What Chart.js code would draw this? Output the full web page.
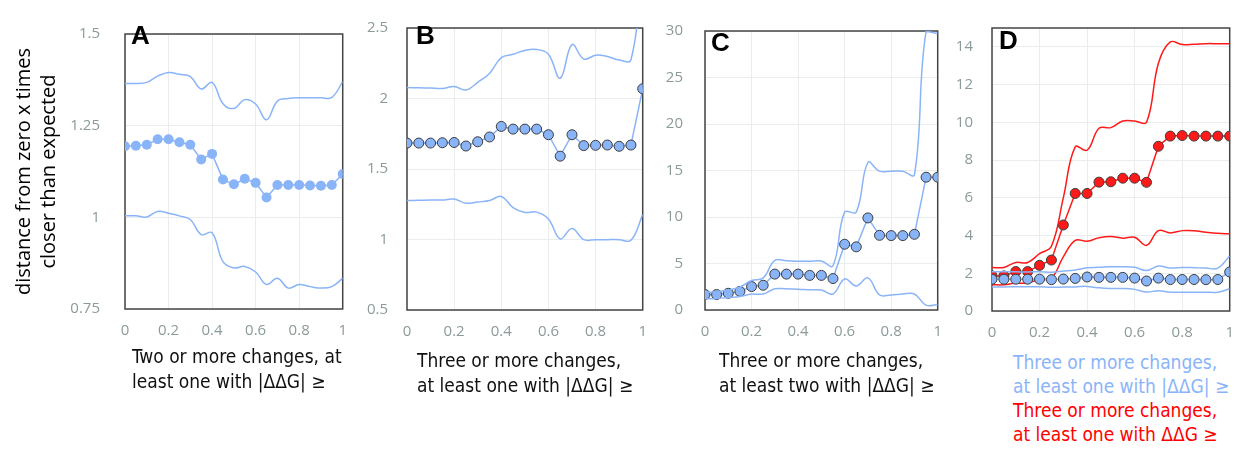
<!DOCTYPE html>
<html>
<head>
<meta charset="utf-8">
<script src="https://cdn.jsdelivr.net/npm/chart.js@4"></script>
<style>
  body { margin: 0; background: #fff; }
  #wrap { position: relative; width: 1247px; height: 449px; overflow: hidden; }
  .panel { position: absolute; top: 0; height: 345px; }
  .letter { position: absolute; font: bold 26px "Liberation Sans", Arial, sans-serif; line-height: 26px; color: #000; }
  .xt { position: absolute; font-family: "DejaVu Sans Condensed", sans-serif; font-size: 19px; line-height: 25px; color: #111; white-space: nowrap; }
</style>
</head>
<body>
<div id="wrap">
  <div class="panel" style="left:0;width:360px"><canvas id="chartA"></canvas></div>
  <div class="panel" style="left:360px;width:300px"><canvas id="chartB"></canvas></div>
  <div class="panel" style="left:660px;width:295px"><canvas id="chartC"></canvas></div>
  <div class="panel" style="left:955px;width:292px"><canvas id="chartD"></canvas></div>

  <div class="letter" style="left:131px;top:22px">A</div>
  <div class="letter" style="left:416px;top:22px">B</div>
  <div class="letter" style="left:711px;top:29px">C</div>
  <div class="letter" style="left:999px;top:27px">D</div>

  <div class="xt" style="left:132px;top:344px">Two or more changes, at<br>least one with |ΔΔG| ≥</div>
  <div class="xt" style="left:417px;top:348px">Three or more changes,<br>at least one with |ΔΔG| ≥</div>
  <div class="xt" style="left:719px;top:348px">Three or more changes,<br>at least two with |ΔΔG| ≥</div>
  <div class="xt" style="left:1013px;top:350px;line-height:24px">
    <span style="color:#8ab4f8">Three or more changes,<br>at least one with |ΔΔG| ≥</span><br>
    <span style="color:#ff0000">Three or more changes,<br>at least one with ΔΔG ≥</span>
  </div>
</div>

<script>
// x positions (threshold values)
const thresholds = [0, 0.05, 0.1, 0.15, 0.2, 0.25, 0.3, 0.35, 0.4, 0.45, 0.5,
                    0.55, 0.6, 0.65, 0.7, 0.75, 0.8, 0.85, 0.9, 0.95, 1];

// A: two or more changes, at least one with |ddG| >=
const aMid   = [1.194, 1.195, 1.198, 1.213, 1.213, 1.205, 1.198, 1.158, 1.173, 1.103, 1.090,
                1.105, 1.094, 1.054, 1.088, 1.088, 1.088, 1.087, 1.086, 1.088, 1.118];
const aUpper = [1.365, 1.365, 1.368, 1.385, 1.395, 1.390, 1.384, 1.350, 1.368, 1.310, 1.297,
                1.321, 1.309, 1.266, 1.317, 1.324, 1.326, 1.326, 1.326, 1.327, 1.370];
const aLower = [1.004, 1.004, 1.001, 1.016, 1.011, 1.004, 0.994, 0.953, 0.958, 0.879, 0.862,
                0.866, 0.851, 0.817, 0.834, 0.807, 0.817, 0.811, 0.807, 0.811, 0.834];

// B: three or more changes, at least one with |ddG| >=
const bMid   = [1.684, 1.684, 1.684, 1.686, 1.688, 1.663, 1.693, 1.727, 1.802, 1.783, 1.783,
                1.783, 1.743, 1.591, 1.743, 1.666, 1.668, 1.670, 1.661, 1.670, 2.069];
const bUpper = [2.078, 2.076, 2.074, 2.071, 2.085, 2.060, 2.115, 2.178, 2.290, 2.314, 2.341,
                2.348, 2.314, 2.144, 2.382, 2.280, 2.307, 2.298, 2.273, 2.273, 2.920];
const bLower = [1.276, 1.278, 1.280, 1.280, 1.287, 1.257, 1.266, 1.276, 1.305, 1.226, 1.192,
                1.194, 1.146, 1.004, 1.078, 0.999, 0.999, 0.999, 0.999, 0.994, 1.176];

// C: three or more changes, at least two with |ddG| >=
const cMid   = [1.66, 1.66, 1.80, 2.00, 2.52, 2.66, 3.86, 3.86, 3.86, 3.72, 3.72,
                3.38, 7.07, 6.79, 9.90, 8.03, 8.00, 8.00, 8.14, 14.28, 14.28];
const cUpper = [1.90, 1.97, 2.14, 2.48, 3.17, 3.45, 5.34, 5.30, 5.24, 5.24, 5.28,
                4.76, 10.52, 10.52, 15.86, 14.93, 14.93, 14.93, 14.55, 29.93, 29.72];
const cLower = [1.21, 1.24, 1.34, 1.45, 1.72, 1.72, 2.28, 2.28, 2.24, 2.17, 2.14,
                1.72, 3.34, 2.59, 3.45, 1.62, 1.62, 1.72, 1.72, 0.52, 0.59];

// D (red): three or more changes, at least one with ddG >=
const dMid   = [1.86, 1.86, 2.09, 2.09, 2.42, 2.70, 4.56, 6.23, 6.23, 6.83, 6.85,
                7.04, 7.04, 6.82, 8.73, 9.27, 9.30, 9.27, 9.27, 9.27, 9.27];
const dUpper = [2.31, 2.31, 2.57, 2.57, 3.04, 3.43, 6.00, 8.70, 8.52, 9.69, 9.72,
                10.07, 10.07, 10.00, 13.13, 14.26, 14.12, 14.14, 14.17, 14.17, 14.17];
const dLower = [1.39, 1.39, 1.48, 1.48, 1.69, 1.74, 2.87, 3.74, 3.70, 3.88, 3.95,
                3.86, 3.91, 3.48, 4.26, 4.14, 4.26, 4.26, 4.17, 4.12, 4.09];

// axis ranges [min, max, step]
const xRange  = [0, 1, 0.2];
const yRangeA = [0.75, 1.5, 0.25];
const yRangeB = [0.5, 2.5, 0.5];
const yRangeC = [0, 30, 5];
const yRangeD = [0, 15, 2];

const BLUE = '#8ab4f8';
const RED = '#ff1a1a';
const TICK = '#8c9a9a';
const GRID = '#e9eded';

const pts = arr => arr.map((v, i) => ({ x: thresholds[i], y: v }));
const fmt = v => String(+Number(v).toFixed(2));

function band(arr, color) {
    return { data: pts(arr), borderColor: color, borderWidth: 1.5, pointRadius: 0, tension: 0.4, fill: false };
}
function dots(arr, color, outlined) {
    return {
        data: pts(arr), borderColor: color, borderWidth: 1.5, tension: 0,
        pointRadius: 5, pointBackgroundColor: color,
        pointBorderColor: outlined ? '#3c3c3c' : color, pointBorderWidth: outlined ? 1 : 0
    };
}

// frame around the plot area
const boxPlugin = {
    id: 'box',
    beforeDatasetsDraw(chart) {
        const a = chart.chartArea, ctx = chart.ctx;
        ctx.save();
        ctx.strokeStyle = '#444';
        ctx.lineWidth = 1.5;
        ctx.strokeRect(a.left, a.top, a.right - a.left, a.bottom - a.top);
        ctx.restore();
    }
};

function makePanel(id, datasets, yRange, o) {
    const yScale = {
        min: yRange[0], max: yRange[1],
        grid: { color: GRID, drawTicks: false },
        border: { display: false },
        ticks: { stepSize: yRange[2], color: TICK, padding: o.yPad, callback: fmt,
                 font: { family: 'Open Sans', size: 15 } },
        // keep only whole steps (drops the 15 on panel D)
        afterBuildTicks: s => {
            s.ticks = s.ticks.filter(t => Math.abs((t.value - yRange[0]) / yRange[2] - Math.round((t.value - yRange[0]) / yRange[2])) < 1e-6);
        },
        afterFit: s => { s.width = o.yWidth; }
    };
    if (o.yTitle) {
        yScale.title = { display: true, text: o.yTitle, color: '#000',
                         font: { family: 'Open Sans', size: 20, lineHeight: 1.25 },
                         padding: { top: 12, bottom: 0 } };
    }
    new Chart(document.getElementById(id), {
        type: 'line',
        data: { datasets },
        options: {
            responsive: true,
            maintainAspectRatio: false,
            animation: false,
            layout: { padding: { top: o.top, right: o.right, left: 0, bottom: 0 } },
            plugins: { legend: { display: false }, tooltip: { enabled: false } },
            scales: {
                x: {
                    type: 'linear', min: xRange[0], max: xRange[1],
                    grid: { color: GRID, drawTicks: false },
                    border: { display: false },
                    ticks: { stepSize: xRange[2], color: TICK, padding: 13, callback: fmt,
                             font: { family: 'Open Sans', size: 15 } },
                    afterFit: s => { s.height = o.xHeight; }
                },
                y: yScale
            }
        },
        plugins: [boxPlugin]
    });
}

makePanel('chartA', [band(aUpper, BLUE), band(aLower, BLUE), dots(aMid, BLUE, false)], yRangeA,
    { yWidth: 125, yPad: 25, top: 15, right: 9, xHeight: 36,
      yTitle: ['distance from zero x times', 'closer than expected'] });

makePanel('chartB', [band(bUpper, BLUE), band(bLower, BLUE), dots(bMid, BLUE, true)], yRangeB,
    { yWidth: 47, yPad: 19, top: 16, right: 12, xHeight: 35 });

makePanel('chartC', [band(cUpper, BLUE), band(cLower, BLUE), dots(cMid, BLUE, true)], yRangeC,
    { yWidth: 45, yPad: 22, top: 20, right: 13, xHeight: 35 });

makePanel('chartD', [band(bUpper, BLUE), band(bLower, BLUE), dots(bMid, BLUE, true),
                     band(dUpper, RED), band(dLower, RED), dots(dMid, RED, true)], yRangeD,
    { yWidth: 37, yPad: 19, top: 22, right: 9, xHeight: 34 });
</script>
</body>
</html>
